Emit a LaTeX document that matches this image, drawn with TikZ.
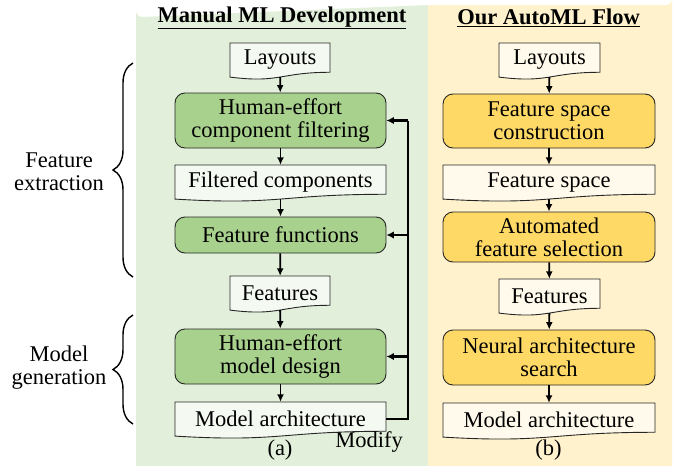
\documentclass[tikz,border=0pt]{standalone}
\usepackage{fontspec}
\setmainfont{Liberation Serif}
\usetikzlibrary{arrows.meta,decorations.pathreplacing,calc}
\definecolor{gpanel}{HTML}{E2EFDA}
\definecolor{ypanel}{HTML}{FFF2CC}
\definecolor{gbox}{HTML}{A9D18E}
\definecolor{ybox}{HTML}{FFD966}
\definecolor{gdoc}{HTML}{F4F9F1}
\definecolor{ydoc}{HTML}{FFFAEB}
\tikzset{
  txt/.style={font=\fontsize{22.5}{23}\selectfont, align=center, inner sep=0pt},
  rbox/.style={txt, draw=black!85, line width=0.9pt, rounded corners=10pt},
  docnode/.style={txt, minimum height=34pt},
  arr/.style={line width=1.8pt, -{Latex[length=7.5pt,width=7pt]}},
  fbline/.style={line width=2.4pt},
  fbarr/.style={line width=2.4pt, -{Latex[length=7.5pt,width=7.5pt]}},
  bracestyle/.style={line width=1.4pt, decorate, decoration={brace, amplitude=20pt}},
}
% #1 name, #2 left, #3 top, #4 right, #5 fill, #6 text
\newcommand\mydoc[6]{%
  \path[fill=#5, draw=black!85, line width=0.9pt] (#2,#3) -- (#4,#3) -- (#4,{#3+0.802*36.5})
    .. controls ({(#2+#4)/2},{#3+0.802*36.5}) and ({(#2+#4)/2},{#3+1.1075*36.5}) .. (#2,{#3+0.934*36.5}) -- cycle;
  \node[docnode, minimum width={#4-#2}] (#1) at ({(#2+#4)/2},{#3+0.4665*36.5}) {#6};
}
\begin{document}
\begin{tikzpicture}[x=1pt,y=-1pt]
\useasboundingbox (0,0) rectangle (683,466);
% panels
\path[fill=gpanel] (136,472) -- (136,11) arc[start angle=180,end angle=90,radius=6] -- (428,5) -- (428,472) -- cycle;
\path[fill=ypanel] (428,472) -- (428,5) -- (666,5) arc[start angle=90,end angle=0,radius=6] -- (672,472) -- cycle;
% titles
\node[txt, font=\fontsize{22.5}{23}\selectfont\bfseries] (t1) at (282,18) {\underline{Manual ML Development}};
\node[txt, font=\fontsize{22.5}{23}\selectfont\bfseries] (t2) at (548.5,18) {\underline{Our AutoML Flow}};
% left column
\mydoc{la}{230}{43}{330}{gdoc}{Layouts}
\node[rbox, fill=gbox, minimum width=211pt, minimum height=55pt] (hecf) at (280.5,120.5) {Human-effort\\component filtering};
\mydoc{fc}{175}{165}{386}{gdoc}{Filtered components}
\node[rbox, fill=gbox, minimum width=211pt, minimum height=36pt] (ff) at (280.5,235) {Feature functions};
\mydoc{fa}{230}{276}{330}{gdoc}{Features}
\node[rbox, fill=gbox, minimum width=211pt, minimum height=55pt] (hemd) at (280.5,356.5) {Human-effort\\model design};
\mydoc{ma}{175}{402}{386}{gdoc}{Model architecture}
\node[txt] (lab) at (280,450) {(a)};
\node[txt] (mod) at (369,442) {Modify};
\draw[arr] (la) -- (hecf);
\draw[arr] (hecf) -- (fc);
\draw[arr] (fc) -- (ff);
\draw[arr] (ff) -- (fa);
\draw[arr] (fa) -- (hemd);
\draw[arr] (hemd) -- (ma);
% feedback
\coordinate (fb) at (408,0);
\draw[fbline, line join=miter] (ma.east) -| (fb |- hecf.east);
\draw[fbarr] (fb |- hecf.east) -- (hecf.east);
\draw[fbarr] (fb |- ff.east) -- (ff.east);
\draw[fbarr] (fb |- hemd.east) -- (hemd.east);
% right column
\mydoc{lb}{499}{43}{600}{ydoc}{Layouts}
\node[rbox, fill=ybox, minimum width=212pt, minimum height=54pt] (fsc) at (549,121) {Feature space\\construction};
\mydoc{fs}{443}{165}{655}{ydoc}{Feature space}
\node[rbox, fill=ybox, minimum width=212pt, minimum height=50pt] (afs) at (549,237) {Automated\\feature selection};
\mydoc{fb2}{499}{279}{600}{ydoc}{Features}
\node[rbox, fill=ybox, minimum width=212pt, minimum height=55pt] (nas) at (549,357.5) {Neural architecture\\search};
\mydoc{mb}{443}{403}{655}{ydoc}{Model architecture}
\node[txt] (lbb) at (548.5,450) {(b)};
\draw[arr] (lb) -- (fsc);
\draw[arr] (fsc) -- (fs);
\draw[arr] (fs) -- (afs);
\draw[arr] (afs) -- (fb2);
\draw[arr] (fb2) -- (nas);
\draw[arr] (nas) -- (mb);
% braces
\coordinate (b1a) at (133,277);
\coordinate (b1b) at (133,63);
\coordinate (b2a) at (133,424);
\coordinate (b2b) at (133,315);
\draw[bracestyle] (b1a) -- (b1b);
\draw[bracestyle] (b2a) -- (b2b);
\node[txt] (fe) at (59,172) {Feature\\extraction};
\node[txt] (mg) at (59,368) {Model\\generation};
\end{tikzpicture}
\end{document}
